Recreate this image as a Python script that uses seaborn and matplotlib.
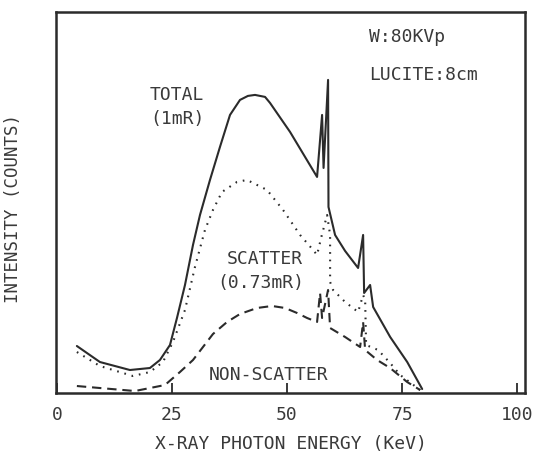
import numpy as np
import pandas as pd
import matplotlib
matplotlib.use("Agg")
import matplotlib.pyplot as plt
import seaborn as sns

# ---- data (arbitrary intensity units) ----
total_energy = [4.35, 9.35, 15.87, 20.22, 22.39, 24.57, 26.09, 27.83, 29.57, 31.09,
                33.26, 35.43, 37.61, 39.78, 41.5, 43.04, 45.22, 46.3, 50.65, 56.52,
                57.61, 57.93, 58.91, 59.0, 60.43, 62.61, 65.43, 66.52, 66.74, 68.04,
                68.7, 72.4, 76.1, 79.35]
total_counts = [47, 31, 23, 25, 33, 48, 75, 108, 148, 178,
                213, 246, 278, 293, 297, 298, 296, 290, 261, 216,
                278, 225, 313, 186, 158, 142, 125, 158, 100, 108,
                86, 56, 31, 4]

scatter_energy = [4.35, 9.35, 16.52, 20.22, 23.04, 25.22, 27.83, 30.0, 32.17, 33.91,
                  35.87, 39.13, 41.3, 45.65, 49.13, 52.83, 55.65, 56.52, 57.39, 58.7,
                  59.35, 59.35, 60.0, 62.61, 65.43, 66.52, 66.96, 67.17, 69.78, 72.39,
                  74.57, 78.91]
scatter_counts = [41, 27, 17, 21, 31, 51, 83, 126, 163, 183,
                  201, 211, 213, 203, 183, 158, 143, 138, 155, 178,
                  158, 111, 103, 91, 81, 98, 93, 48, 43, 30,
                  18, 3]

nonscatter_energy = [4.35, 9.35, 16.96, 23.48, 26.74, 29.57, 31.74, 33.91, 36.96, 39.78,
                     43.48, 46.74, 49.57, 52.17, 54.35, 56.52, 57.17, 57.61, 58.91, 59.35,
                     62.61, 65.87, 66.52, 66.96, 69.57, 72.39, 76.09, 78.91]
nonscatter_counts = [7, 5, 2, 8, 21, 33, 46, 59, 71, 79,
                     85, 87, 85, 80, 75, 71, 100, 75, 103, 65,
                     56, 46, 71, 43, 33, 25, 11, 3]

series_names = ["TOTAL", "SCATTER", "NON-SCATTER"]
x_ticks = [0, 25, 50, 75, 100]

frames = []
for name, e, c in zip(series_names,
                      [total_energy, scatter_energy, nonscatter_energy],
                      [total_counts, scatter_counts, nonscatter_counts]):
    frames.append(pd.DataFrame({"energy": e, "counts": c, "series": name}))
df = pd.concat(frames, ignore_index=True)

sns.set_theme(style="white")
plt.rcParams['font.family'] = ['DejaVu Sans Mono', 'DejaVu Sans']
ink = "#2b2b2b"
tcol = "#3a3a3a"

fig = plt.figure(figsize=(5.43, 4.57), dpi=100)
ax = fig.add_axes([0.103, 0.140, 0.864, 0.834])

sns.lineplot(data=df, x="energy", y="counts", hue="series", style="series",
             hue_order=series_names, style_order=series_names,
             palette={n: ink for n in series_names},
             dashes={"TOTAL": "", "SCATTER": (0.8, 2.8), "NON-SCATTER": (4.5, 2.8)},
             sort=False, estimator=None, units="series", linewidth=1.5,
             legend=False, ax=ax)

ax.set_xlim(-0.2, 101.7)
ax.set_ylim(0, 381)
ax.set_xticks(x_ticks)
ax.set_xticklabels([str(t) for t in x_ticks])
ax.set_yticks([])
ax.tick_params(axis="x", direction="in", length=7, width=1.3, colors=ink,
               labelcolor=tcol, labelsize=13, pad=9, bottom=True)
for s in ax.spines.values():
    s.set_color(ink)
    s.set_linewidth(1.8)

ax.set_xlabel("X-RAY PHOTON ENERGY (KeV)", fontsize=13, color=tcol, labelpad=8)
ax.set_ylabel("INTENSITY (COUNTS)", fontsize=12.5, color=tcol)
ax.yaxis.set_label_coords(-0.072, 0.485)

kw = dict(fontsize=13, color=tcol)
ax.text(26.1, 298, "TOTAL", ha="center", va="center", **kw)
ax.text(26.3, 274, "(1mR)", ha="center", va="center", **kw)
ax.text(45.2, 134, "SCATTER", ha="center", va="center", **kw)
ax.text(44.3, 110, "(0.73mR)", ha="center", va="center", **kw)
ax.text(46.0, 18, "NON-SCATTER", ha="center", va="center", **kw)
ax.text(67.8, 356, "W:80KVp", ha="left", va="center", **kw)
ax.text(67.8, 318, "LUCITE:8cm", ha="left", va="center", **kw)

fig.savefig("out.png", dpi=100, facecolor="white")
